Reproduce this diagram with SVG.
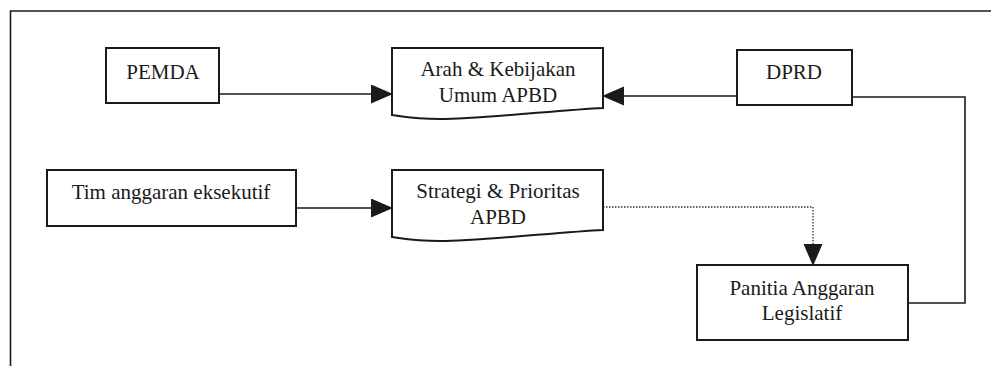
<svg xmlns="http://www.w3.org/2000/svg" width="991" height="366" viewBox="0 0 991 366">
<style>
.box{fill:#fff;stroke:#1a1a1a;stroke-width:2}
.t{font-family:"Liberation Serif","Times New Roman",serif;font-size:21px;fill:#1a1a1a;text-anchor:middle}
.ln{fill:none;stroke:#1a1a1a;stroke-width:1.6}
.dot{fill:none;stroke:#333;stroke-width:1.3;stroke-dasharray:1.5 1.5}
</style>
<defs>
<marker id="ah" markerWidth="22" markerHeight="20" refX="21" refY="9.5" orient="auto" markerUnits="userSpaceOnUse">
<path d="M0,0 L22,9.5 L0,19 Z" fill="#1a1a1a"/>
</marker>
</defs>
<rect width="991" height="366" fill="#fff"/>
<g id="frame">
<path class="ln" d="M10.5,366 V11 H991" stroke-width="2"/>
</g>
<g id="connectors">
<path class="ln" d="M219,94 H392" marker-end="url(#ah)"/>
<path class="ln" d="M737,96 H603" marker-end="url(#ah)"/>
<path class="ln" d="M296,208 H392" marker-end="url(#ah)"/>
<path class="dot" d="M603,207 H813 V265" marker-end="url(#ah)"/>
<path class="ln" d="M852,97 H965 V303 H908"/>
</g>
<g id="pemda">
<rect class="box" x="106" y="48" width="113" height="55"/>
<text class="t" x="163" y="79">PEMDA</text>
</g>
<g id="arah">
<path class="box" d="M392,48 H603 V108 C560,110 480,119 440,119 C415,119 400,116 392,115 Z"/>
<text class="t" x="498" y="76">Arah &amp; Kebijakan</text>
<text class="t" x="498" y="102">Umum APBD</text>
</g>
<g id="dprd">
<rect class="box" x="737" y="50" width="115" height="55"/>
<text class="t" x="794" y="79">DPRD</text>
</g>
<g id="tim">
<rect class="box" x="47" y="170" width="249" height="56"/>
<text class="t" x="171" y="199">Tim anggaran eksekutif</text>
</g>
<g id="strategi">
<path class="box" d="M392,170 H603 V230 C560,232 480,241 440,241 C415,241 400,238 392,237 Z"/>
<text class="t" x="498" y="198">Strategi &amp; Prioritas</text>
<text class="t" x="498" y="224">APBD</text>
</g>
<g id="panitia">
<rect class="box" x="697" y="265" width="211" height="75"/>
<text class="t" x="802" y="295">Panitia Anggaran</text>
<text class="t" x="802" y="320">Legislatif</text>
</g>
</svg>
